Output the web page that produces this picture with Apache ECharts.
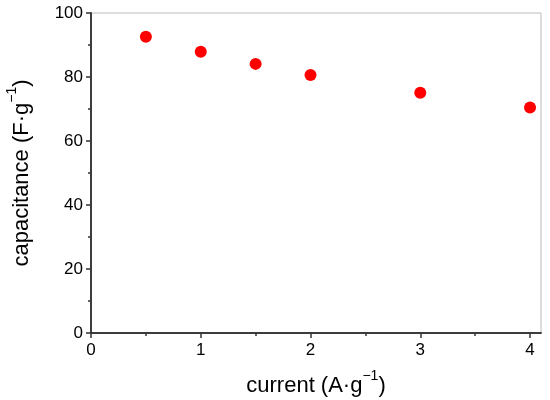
<!DOCTYPE html>
<html>
<head>
<meta charset="utf-8">
<script src="https://cdn.jsdelivr.net/npm/echarts@6/dist/echarts.min.js"></script>
<style>
  html, body { margin: 0; padding: 0; background: #fff; }
  #chart { width: 550px; height: 400px; }
</style>
</head>
<body>
<div id="chart"></div>
<script>
// current (A/g) vs capacitance (F/g)
const current = [0.5, 1, 1.5, 2, 3, 4];
const capacitance = [92.6, 87.9, 84.1, 80.6, 75.1, 70.5];
const xMajorTicks = [0, 1, 2, 3, 4];
const xMinorTicks = [0.5, 1.5, 2.5, 3.5];
const yMajorTicks = [0, 20, 40, 60, 80, 100];
const yMinorTicks = [10, 30, 50, 70, 90];

const font = 'Liberation Sans, Arial, sans-serif';
const axisColor = '#333';

const titleRich = {
    a: { fontSize: 22, fontFamily: font, color: '#000', lineHeight: 28, verticalAlign: 'bottom' },
    s: { fontSize: 14, fontFamily: font, color: '#000', lineHeight: 28, verticalAlign: 'top' },
};

const chart = echarts.init(document.getElementById('chart'));

const baseX = {
    type: 'value',
    min: 0,
    max: 4.1,
    position: 'bottom',
    splitLine: { show: false },
    axisLine: { show: true, onZero: false, lineStyle: { color: axisColor, width: 1.5 } },
};
const baseY = {
    type: 'value',
    min: 0,
    max: 100,
    position: 'left',
    splitLine: { show: false },
    axisLine: { show: true, onZero: false, lineStyle: { color: axisColor, width: 1.5 } },
};

chart.setOption({
    animation: false,
    grid: {
        left: 91,
        top: 13,
        right: 9,
        bottom: 67,
        outerBoundsMode: 'none',
        show: true,
        borderColor: '#bbb',
        borderWidth: 1,
    },
    xAxis: [
        Object.assign({}, baseX, {
            name: '{a|current (A·g}{s|−1}{a|)}',
            nameLocation: 'middle',
            nameGap: 36,
            nameTextStyle: { rich: titleRich },
            axisTick: { show: true, customValues: xMajorTicks, length: 5, lineStyle: { color: axisColor, width: 1.5 } },
            axisLabel: { customValues: xMajorTicks, fontSize: 17, fontFamily: font, color: '#000', margin: 9 },
        }),
        Object.assign({}, baseX, {
            axisTick: { show: true, customValues: xMinorTicks, length: 3, lineStyle: { color: axisColor, width: 1.5 } },
            axisLabel: { show: false },
        }),
    ],
    yAxis: [
        Object.assign({}, baseY, {
            name: '{a|capacitance (F·g}{s|−1}{a|)}',
            nameLocation: 'middle',
            nameGap: 58,
            nameRotate: 90,
            nameTextStyle: { rich: titleRich },
            axisTick: { show: true, customValues: yMajorTicks, length: 5, lineStyle: { color: axisColor, width: 1.5 } },
            axisLabel: { customValues: yMajorTicks, fontSize: 17, fontFamily: font, color: '#000', margin: 8 },
        }),
        Object.assign({}, baseY, {
            axisTick: { show: true, customValues: yMinorTicks, length: 3, lineStyle: { color: axisColor, width: 1.5 } },
            axisLabel: { show: false },
        }),
    ],
    series: [{
        type: 'scatter',
        xAxisIndex: 0,
        yAxisIndex: 0,
        data: current.map((c, i) => [c, capacitance[i]]),
        symbolSize: 12,
        itemStyle: { color: '#ff0000', opacity: 1 },
    }],
});
</script>
</body>
</html>
